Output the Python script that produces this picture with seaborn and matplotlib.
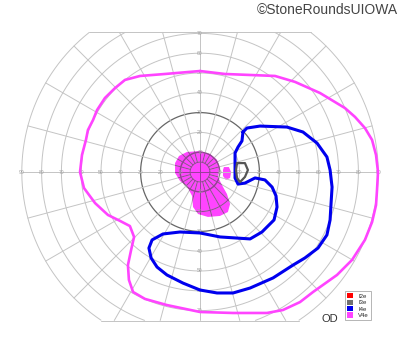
import numpy as np
import pandas as pd
import matplotlib
matplotlib.use("Agg")
import matplotlib.pyplot as plt
import seaborn as sns
from matplotlib.patches import Patch, Polygon

# ---- data: isopters in field degrees (x = horizontal, y = vertical) ----
v4e_x = [0, 12.6, 25.3, 37.9, 48.0, 60.6, 73.2, 78.3, 83.3, 86.9, 88.9, 89.9, 89.4, 88.9, 86.9,
         83.3, 76.8, 69.2, 57.1, 50.5, 41.9, 33.8, 16.7, 0, -16.7, -27.8, -33.8, -35.9, -36.4,
         -34.8, -33.3, -35.4, -40.4, -46.5, -53.0, -58.6, -60.6, -59.6, -57.6, -56.6, -54.0,
         -52.0, -48.0, -42.9, -37.9, -30.3, -17.7]
v4e_y = [51.0, 49.5, 49.0, 48.5, 45.5, 39.9, 32.3, 27.8, 22.2, 16.2, 8.6, 0, -9.1, -16.7, -25.3,
         -34.3, -44.4, -52.0, -60.6, -65.7, -69.7, -71.2, -71.2, -70.7, -67.2, -64.1, -60.6, -54.5,
         -47.0, -39.4, -32.8, -27.3, -24.7, -21.7, -15.7, -8.1, 0, 8.6, 16.2, 21.2, 26.3, 31.3,
         37.4, 42.4, 46.5, 48.5, 49.5]

i4e_x = [21.7, 23.7, 30.3, 43.9, 52.0, 59.1, 64.1, 65.7, 66.7, 66.2, 65.7, 64.1, 59.6, 53.0, 47.0,
         36.9, 25.3, 16.7, 8.6, 0, -8.6, -16.7, -21.7, -24.7, -25.8, -24.2, -18.7, -10.1, 0, 10.1,
         25.3, 31.3, 37.4, 38.9, 38.4, 36.4, 32.8, 27.8, 22.7, 19.2, 17.7, 17.7, 17.7, 19.2, 21.2]
i4e_y = [20.2, 22.2, 23.2, 22.7, 20.2, 14.6, 7.6, 1.0, -7.6, -15.7, -24.2, -31.8, -38.4, -43.4, -47.0,
         -53.5, -58.6, -61.1, -61.1, -59.6, -56.1, -52.0, -48.0, -43.4, -38.4, -34.3, -31.3, -30.3,
         -30.8, -32.8, -33.8, -30.3, -24.2, -17.7, -12.1, -7.6, -4.0, -3.0, -5.6, -6.1, -3.0, 2.5,
         9.6, 12.6, 15.7]

i3e_x = [18.7, 22.7, 24.2, 22.7, 20.2, 18.7, 18.2]
i3e_y = [4.5, 4.5, 1.0, -2.5, -5.1, -3.0, 1.0]

blob_x = [-6.6, 0, 5.1, 8.6, 10.1, 9.1, 11.1, 13.6, 15.2, 14.1, 10.1, 4.0, -1.0, -3.5, -4.0,
          -6.6, -10.1, -12.6, -12.6, -10.6]
blob_y = [10.1, 10.6, 9.1, 6.1, 2.0, -2.5, -6.6, -11.1, -16.2, -20.2, -22.2, -22.7, -21.2, -17.7,
          -12.1, -7.1, -4.5, -0.5, 4.5, 8.1]

spot_x = [12.1, 14.6, 15.7, 15.2, 13.1, 11.6, 11.6]
spot_y = [2.5, 2.5, 0, -3.0, -4.0, -2.0, 1.0]

legend_labels = ["I2e", "I3e", "I4e", "V4e"]
legend_colors = ["#ff0000", "#707070", "#0000ee", "#ff44ff"]
ring_values = [10, 20, 30, 40, 50, 60, 70, 80, 90]
vert_labels = [10, 20, 30, 40, 50, 60, 70]

# ---- figure ----
sns.set_style("white")
plt.rcParams["font.family"] = ["Liberation Sans", "DejaVu Sans"]
S = 1.98
fig = plt.figure(figsize=(4, 3.52), dpi=100)
ax = fig.add_axes([0, 0, 1, 1])
ax.set_xlim(-200 / S, 200 / S)
ax.set_ylim(-180 / S, 172 / S)
ax.axis("off")

TOP, BOT = 70.5, -75.0
GRID = "#c4c4c4"

# central filled region
ax.fill(blob_x, blob_y, color="#ff44ff", lw=0, zorder=1)
ax.fill(spot_x, spot_y, color="#ff44ff", lw=0, zorder=1)
clip_poly = Polygon(np.column_stack([blob_x, blob_y]), closed=True, transform=ax.transData,
                    facecolor="none", edgecolor="none")


def clip(x, y):
    x = np.asarray(x, float).copy()
    y = np.asarray(y, float).copy()
    m = (y > TOP) | (y < BOT)
    x[m] = np.nan
    y[m] = np.nan
    return x, y


def gline(x, y, col, lw):
    ax.plot(x, y, color=col, lw=lw, zorder=2)
    dk, = ax.plot(x, y, color="#9a3a9a", lw=lw, zorder=2.5)
    dk.set_clip_path(clip_poly)


th = np.linspace(0, 2 * np.pi, 1441)
for r in [5] + ring_values:
    x, y = clip(r * np.cos(th), r * np.sin(th))
    col = "#666666" if r == 30 else ("#888888" if r == 10 else GRID)
    gline(x, y, col, 0.9 if r in (10, 30) else 0.7)

for yy in (TOP, BOT):
    xe = np.sqrt(90 ** 2 - yy ** 2)
    ax.plot([-xe, xe], [yy, yy], color=GRID, lw=0.7, zorder=2)

rr = np.linspace(5, 90, 400)
for a in range(0, 360, 15):
    ar = np.radians(a)
    x, y = clip(rr * np.cos(ar), rr * np.sin(ar))
    gline(x, y, GRID, 0.7)
gline([-5, 5], [0, 0], GRID, 0.7)
gline([0, 0], [-5, 5], GRID, 0.7)

for v in ring_values:
    for sx in (-1, 1):
        ax.text(sx * v, 0, str(v), fontsize=3.6, color="#a0a0a0", ha="center", va="center", zorder=3)
for v in vert_labels:
    for sy in (-1, 1):
        ax.text(0, sy * v, str(v), fontsize=3.6, color="#a0a0a0", ha="center", va="center", zorder=3)


def closed(xs, ys):
    return pd.DataFrame({"x": list(xs) + [xs[0]], "y": list(ys) + [ys[0]]})


d = closed(v4e_x, v4e_y)
sns.lineplot(data=d, x="x", y="y", sort=False, estimator=None, color="#ff44ff", lw=1.9, ax=ax, zorder=4)
d = closed(i4e_x, i4e_y)
sns.lineplot(data=d, x="x", y="y", sort=False, estimator=None, color="#0000ee", lw=2.2, ax=ax, zorder=5)
d = closed(i3e_x, i3e_y)
sns.lineplot(data=d, x="x", y="y", sort=False, estimator=None, color="#555555", lw=1.6, ax=ax, zorder=5)
for ln in ax.get_lines()[-3:]:
    ln.set_solid_joinstyle("round")
    ln.set_solid_capstyle("round")
ax.set_xlim(-200 / S, 200 / S)
ax.set_ylim(-180 / S, 172 / S)

handles = [Patch(facecolor=c, edgecolor="none") for c in legend_colors]
leg = fig.legend(handles, legend_labels, loc="upper left", bbox_to_anchor=(345 / 400, 1 - 291 / 352),
                 fontsize=4.3, handlelength=1.0, handleheight=1.0, borderpad=0.35, labelspacing=0.12,
                 handletextpad=0.9, frameon=True, fancybox=False, edgecolor="#aaaaaa", framealpha=1,
                 borderaxespad=0)
leg.get_frame().set_linewidth(0.6)

fig.text(322 / 400, 1 - 319 / 352, "OD", fontsize=8, color="#333333", ha="left", va="center")
fig.text(398 / 400, 1 - 10 / 352, "©StoneRoundsUIOWA", fontsize=10, color="#444444", ha="right", va="center")

fig.savefig("out.png", dpi=100)
